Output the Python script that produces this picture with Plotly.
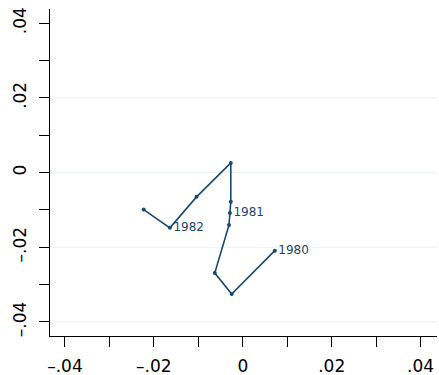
import plotly.graph_objects as go

# Quarterly path, 1980q1 .. 1982q2
periods = ["1980q1", "1980q2", "1980q3", "1980q4",
           "1981q1", "1981q2", "1981q3", "1981q4",
           "1982q1", "1982q2"]
x_vals = [0.0072, -0.0025, -0.0063, -0.0031,
          -0.0029, -0.0027, -0.0027, -0.0104,
          -0.0164, -0.0223]
y_vals = [-0.0209, -0.0325, -0.0269, -0.0140,
          -0.0108, -0.0078, 0.0026, -0.0065,
          -0.0148, -0.0099]
point_labels = ["1980", "", "", "",
                "1981", "", "", "",
                "1982", ""]

tick_vals = [-0.04, -0.02, 0, 0.02, 0.04]
tick_text = ["\u2013.04", "\u2013.02", "0", ".02", ".04"]
minor_vals = [-0.03, -0.01, 0.01, 0.03]
grid_vals = [0.02, 0, -0.02, -0.04]

navy = "#1a476f"
font_family = "DejaVu Sans"

fig = go.Figure()
fig.add_trace(go.Scatter(
    x=x_vals, y=y_vals,
    mode="lines+markers+text",
    text=point_labels,
    textposition="middle right",
    textfont=dict(family=font_family, size=12, color=navy),
    line=dict(color=navy, width=1.6),
    marker=dict(color=navy, size=4),
    hovertext=periods,
    showlegend=False,
))

# horizontal grid lines
for g in grid_vals:
    fig.add_shape(type="line", xref="paper", yref="y",
                  x0=0, x1=1, y0=g, y1=g,
                  line=dict(color="#eaf2f3", width=1), layer="below")

axis_common = dict(
    tickmode="array",
    tickvals=tick_vals,
    ticktext=tick_text,
    ticks="outside",
    ticklen=10,
    tickwidth=1,
    tickcolor="black",
    showline=True,
    linecolor="black",
    linewidth=1.3,
    showgrid=False,
    zeroline=False,
    automargin=False,
    tickfont=dict(family=font_family, size=17, color="black"),
    minor=dict(tickmode="array", tickvals=minor_vals, ticks="outside",
               ticklen=10, tickwidth=1, tickcolor="black", showgrid=False),
)

fig.update_xaxes(range=[-0.04337, 0.04369], ticklabelstandoff=4, **axis_common)
fig.update_yaxes(range=[-0.04375, 0.0438], tickangle=-90,
                 ticklabelstandoff=6, **axis_common)

fig.update_layout(
    width=439, height=375,
    margin=dict(l=50, r=2, t=9, b=39),
    paper_bgcolor="white",
    plot_bgcolor="white",
)

fig.write_html("out.html")
